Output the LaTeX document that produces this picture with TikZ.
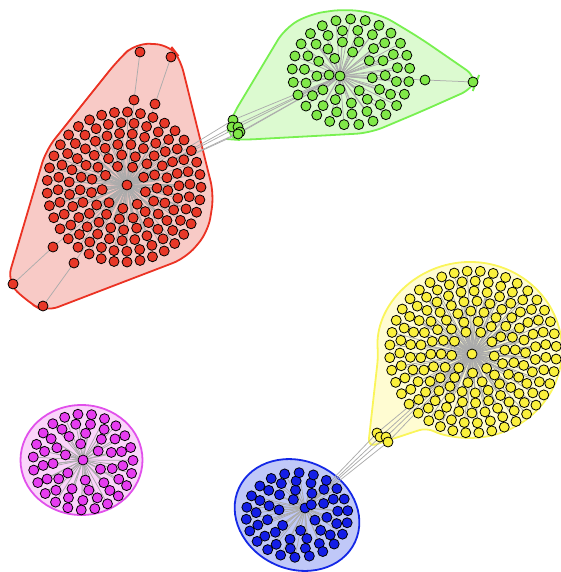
\documentclass[tikz,border=0pt]{standalone}
\usetikzlibrary{calc}
\pgfdeclarelayer{hull}
\pgfdeclarelayer{bg}
\pgfsetlayers{hull,bg,main}
\definecolor{rnodec}{RGB}{232,56,40}
\definecolor{rhullf}{RGB}{248,202,198}
\definecolor{rhulls}{RGB}{235,50,35}
\definecolor{gnodec}{RGB}{128,232,72}
\definecolor{ghullf}{RGB}{220,250,208}
\definecolor{ghulls}{RGB}{120,240,80}
\definecolor{ynodec}{RGB}{250,240,60}
\definecolor{yhullf}{RGB}{255,252,210}
\definecolor{yhulls}{RGB}{250,245,90}
\definecolor{bnodec}{RGB}{20,30,230}
\definecolor{bhullf}{RGB}{192,200,248}
\definecolor{bhulls}{RGB}{20,40,230}
\definecolor{mnodec}{RGB}{230,60,240}
\definecolor{mhullf}{RGB}{250,212,250}
\definecolor{mhulls}{RGB}{225,80,235}
\definecolor{edgec}{RGB}{172,172,172}
\tikzset{
  vtx/.style={circle,draw=black,line width=0.8pt,minimum size=10pt,inner sep=0pt},
  rn/.style={vtx,fill=rnodec},
  gn/.style={vtx,fill=gnodec},
  yn/.style={vtx,fill=ynodec},
  bn/.style={vtx,fill=bnodec},
  mn/.style={vtx,fill=mnodec},
  edge/.style={draw=edgec,line width=0.75pt},
  hullline/.style={line width=1.8pt,rounded corners=14pt}
}
\begin{document}
\begin{tikzpicture}[x=1pt,y=-1pt]
\useasboundingbox (0,0) rectangle (560,572);
% hulls
\begin{pgfonlayer}{hull}
\filldraw[hullline,fill=rhullf,draw=rhulls] (136,43) -- (170,45) -- (180,58) -- (214,195) -- (208,232) -- (186,258) -- (45,312) -- (28,302) -- (7,282) -- (46,150) -- (118,60) -- cycle;
\filldraw[hullline,fill=ghullf,draw=ghulls] (226,139) -- (231,118) -- (285,28) -- (310,14) -- (345,9) -- (380,14) -- (420,38) -- (478,78) -- (474,88) -- (420,112) -- (370,133) -- (240,140) -- cycle;
\filldraw[line width=1.8pt,rounded corners=8pt,fill=yhullf,draw=yhulls] (368,447) -- (378.2,356.1) arc[start angle=184,end angle=-118,x radius=92pt,y radius=88pt] -- cycle;
\filldraw[line width=1.8pt,fill=bhullf,draw=bhulls,rotate around={-25:(297,515)}] (297,515) ellipse[x radius=64pt,y radius=54pt];
\filldraw[line width=1.8pt,fill=mhullf,draw=mhulls] (81.5,460) ellipse[x radius=61pt,y radius=55pt];
\end{pgfonlayer}
% red cluster
\coordinate (rc) at (124,187);
\node[rn] (rh) at (127,185) {};
\foreach \r/\n [count=\k] in {22/9,33/15,44/21,55/27,66/32,77/37} {
  \foreach \i in {1,...,\n} {
    \node[rn] (r\k-\i) at ($(rc)+({360*\i/\n+13*\k}:{\r} and {\r*0.975})$) {};
  }
}
\node[rn] (ra1) at (134,100) {};
\node[rn] (ra2) at (140,52) {};
\node[rn] (rb1) at (155,104) {};
\node[rn] (rb2) at (171,57) {};
\node[rn] (rd1) at (53,247) {};
\node[rn] (rd2) at (13,284) {};
\node[rn] (re1) at (74,263) {};
\node[rn] (re2) at (43,306) {};
% green cluster
\coordinate (gc) at (351,72);
\node[gn] (gh) at (340,76) {};
\foreach \r/\n [count=\k] in {20/7,31/13,42/19,53/25} {
  \foreach \i in {1,...,\n} {
    \node[gn] (g\k-\i) at ($(gc)+({360*\i/\n+17*\k}:{\r*1.11} and {\r})$) {};
  }
}
\node[gn] (ga1) at (425,80) {};
\node[gn] (ga2) at (473,82) {};
\foreach \p [count=\j] in {(233,120),(232,127),(238,127),(240,132),(238,134)} {
  \node[gn] (gs\j) at \p {};
}
% yellow cluster
\coordinate (yc) at (473,352);
\node[yn] (yh) at (472,354) {};
\foreach \r/\n [count=\k] in {21/9,31/14,41/20,51/25,61/30,71/35,81/40} {
  \foreach \i in {1,...,\n} {
    \node[yn] (y\k-\i) at ($(yc)+({360*\i/\n+11*\k}:{\r*1.03} and {\r})$) {};
  }
}
\foreach \p [count=\j] in {(377,433),(380,437),(386,437),(388,442)} {
  \node[yn] (ys\j) at \p {};
}
% blue cluster
\coordinate (bc) at (297,515);
\node[bn] (bh) at (305,508) {};
\foreach \r/\n [count=\k] in {19/6,30/11,41/17,51/22} {
  \foreach \i in {1,...,\n} {
    \node[bn] (b\k-\i) at ($(bc)+({360*\i/\n+19*\k}:{\r} and {\r*0.83})$) {};
  }
}
% magenta cluster
\coordinate (mc) at (83,462);
\node[mn] (mh) at (83,460) {};
\foreach \r/\n [count=\k] in {19/6,30/11,40/17,50/23} {
  \foreach \i in {1,...,\n} {
    \node[mn] (m\k-\i) at ($(mc)+({360*\i/\n+23*\k}:{\r} and {\r*0.96})$) {};
  }
}
% edges
\begin{pgfonlayer}{bg}
\foreach \n [count=\k] in {9,15,21,27,32,37} {\foreach \i in {1,...,\n} {\draw[edge] (rh) -- (r\k-\i);}}
\draw[edge] (rh) -- (ra1) -- (ra2);
\draw[edge] (rh) -- (rb1) -- (rb2);
\draw[edge] (rh) -- (rd1) -- (rd2);
\draw[edge] (rh) -- (re1) -- (re2);
\foreach \n [count=\k] in {7,13,19,25} {\foreach \i in {1,...,\n} {\draw[edge] (gh) -- (g\k-\i);}}
\draw[edge] (gh) -- (ga1) -- (ga2);
\foreach \j in {1,...,5} {\draw[edge] (gh) -- (gs\j); \draw[edge] (rh) -- (gs\j);}
\foreach \n [count=\k] in {9,14,20,25,30,35,40} {\foreach \i in {1,...,\n} {\draw[edge] (yh) -- (y\k-\i);}}
\foreach \j in {1,...,4} {\draw[edge] (yh) -- (ys\j); \draw[edge] (bh) -- (ys\j);}
\foreach \n [count=\k] in {6,11,17,22} {\foreach \i in {1,...,\n} {\draw[edge] (bh) -- (b\k-\i);}}
\foreach \n [count=\k] in {6,11,17,23} {\foreach \i in {1,...,\n} {\draw[edge] (mh) -- (m\k-\i);}}
\end{pgfonlayer}
\end{tikzpicture}
\end{document}
